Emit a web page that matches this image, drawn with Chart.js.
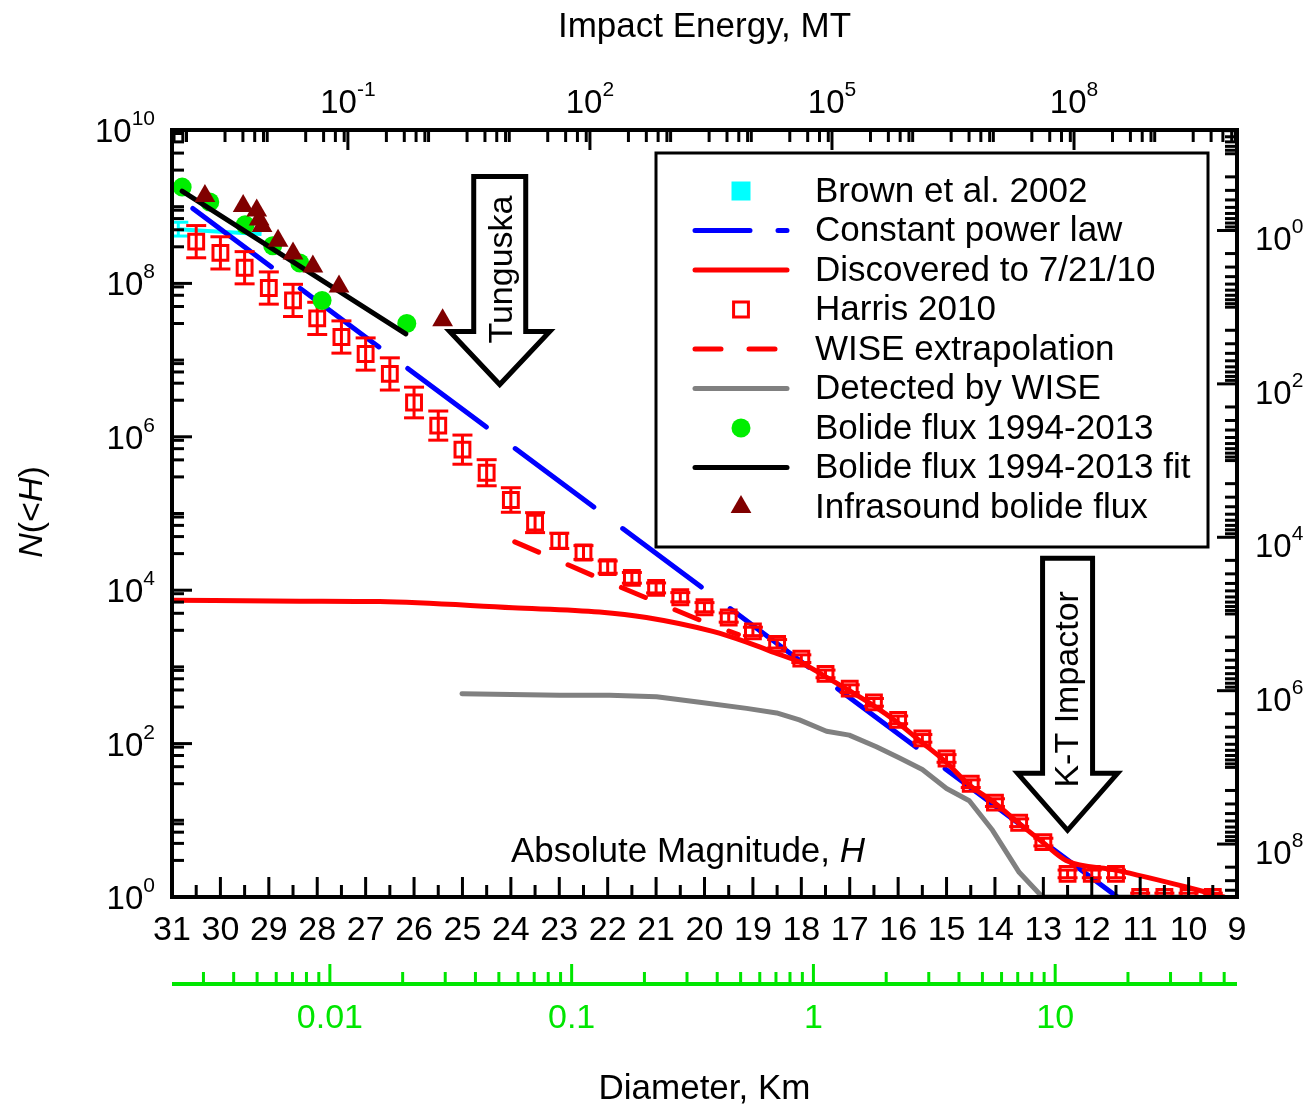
<!DOCTYPE html>
<html>
<head>
<meta charset="utf-8">
<title>NEA size distribution</title>
<script src="https://cdn.jsdelivr.net/npm/chart.js@4.4.1/dist/chart.umd.min.js"></script>
<style>
  html, body { margin:0; padding:0; background:#fff; }
  #wrap { width:1305px; height:1104px; }
</style>
</head>
<body>
<div id="wrap"><canvas id="neaChart" width="1305" height="1104"></canvas></div>
<script>
// every series is N(<H) against absolute magnitude H
const harrisH = [30.5, 30, 29.5, 29, 28.5, 28, 27.5, 27, 26.5, 26, 25.5, 25, 24.5, 24, 23.5, 23, 22.5, 22,
  21.5, 21, 20.5, 20, 19.5, 19, 18.5, 18, 17.5, 17, 16.5, 16, 15.5, 15, 14.5, 14, 13.5, 13, 12.5, 12, 11.5,
  11, 10.5, 10, 9.5];
const harrisN = [3.5e8, 2.5e8, 1.6e8, 8.7e7, 6.0e7, 3.5e7, 2.0e7, 1.2e7, 6.6e6, 2.8e6, 1.4e6, 6.8e5, 3.4e5,
  1.5e5, 7.6e4, 4.4e4, 3.1e4, 2.0e4, 1.45e4, 1.07e4, 8100, 6000, 4400, 2900, 2000, 1280, 810, 520, 345, 204,
  117, 64, 30, 17, 9.3, 5.2, 2, 2, 2, 1, 1, 1, 1];
// half length of the error bars, in decades
const harrisErr = [0.21, 0.21, 0.21, 0.21, 0.21, 0.21, 0.21, 0.21, 0.21, 0.2, 0.19, 0.19, 0.17, 0.16, 0.13,
  0.1, 0.09, 0.08, 0.07, 0.065, 0.06, 0.06, 0.06, 0.055, 0.055, 0.05, 0.05, 0.05, 0.05, 0.05, 0.05, 0.05,
  0.05, 0.05, 0.05, 0.05, 0.05, 0.05, 0.05, 0.05, 0.05, 0.05, 0.05];

const discoveredH = [31, 28.36, 26.71, 23.96, 22.17, 21.2, 19.83, 19.13, 18.45, 18.02, 17.52, 17.03, 16.53,
  16.02, 15.52, 15.02, 14.53, 14.01, 13.5, 13.02, 12.53, 11.5, 10.05, 9.27];
const discoveredN = [7400, 7200, 7100, 5900, 5200, 4400, 2900, 2100, 1450, 1150, 760, 500, 320, 190, 105,
  58, 29, 17, 9.1, 5.2, 3.0, 2.24, 1.35, 1];

const wiseExtH = [23.92, 22.23, 20.0, 19.3];
const wiseExtN = [42700, 14800, 3850, 2630];

const wiseDetH = [25.01, 22.99, 21.96, 20.99, 20.1, 19.13, 18.51, 18.04, 17.48, 17.01, 16.45, 15.97, 15.5,
  15.0, 14.53, 14.05, 13.5, 13.02, 9.99];
const wiseDetN = [447, 427, 427, 407, 347, 288, 251, 204, 145, 129, 91, 65, 46, 26, 18, 7.4, 2.1, 1, 1];

const powerLawH = [30.57, 11.47];
const powerLawN = [9.5e8, 1];

const brownH = [30.87, 30.0, 29.15];
const brownN = [5.1e8, 4.7e8, 4.4e8];
const brownErr = [0.09, 0, 0];

const bolideH = [30.79, 30.22, 29.49, 28.92, 28.36, 27.9, 26.15];
const bolideN = [1.8e9, 1.15e9, 5.8e8, 3.1e8, 1.85e8, 6.0e7, 3.0e7];

const bolideFitH = [30.79, 26.17];
const bolideFitN = [1.6e9, 2.2e7];

const infraH = [30.32, 29.53, 29.25, 29.2, 29.14, 28.81, 28.5, 28.09, 27.55, 25.41];
const infraN = [1.38e9, 1.02e9, 8.9e8, 6.8e8, 5.6e8, 3.6e8, 2.45e8, 1.66e8, 9.1e7, 3.3e7];

// axis ranges and labelled ticks
const hMin = 9, hMax = 31;
const countMin = 1, countMax = 1e10;
const leftDecades = [0, 2, 4, 6, 8, 10];
const rightMin = Math.pow(10, -1.31), rightMax = Math.pow(10, 8.69);
const rightDecades = [0, 2, 4, 6, 8];
const energyMin = Math.pow(10, -3.18), energyMax = Math.pow(10, 10.02);
const energyDecades = [-1, 2, 5, 8];
const diamMin = Math.pow(10, -2.653), diamMax = Math.pow(10, 1.752);
const diamTicks = [0.01, 0.1, 1, 10];

// arrow tips: [H, N]
const tunguskaTip = [24.23, 4.8e6];
const ktTip = [12.5, 7.4];

const FONT = "'Liberation Sans', Arial, Helvetica, sans-serif";
const GREEN = '#00e600';
Chart.defaults.font.family = FONT;

const pts = (xs, ys) => xs.map((x, i) => ({ x: x, y: ys[i] }));

function line(ctx, x1, y1, x2, y2) {
  ctx.beginPath(); ctx.moveTo(x1, y1); ctx.lineTo(x2, y2); ctx.stroke();
}

function drawPow(ctx, exp, x, y, align) {
  ctx.font = '33px ' + FONT;
  const wb = ctx.measureText('10').width;
  ctx.font = '21px ' + FONT;
  const we = ctx.measureText(exp).width;
  const w = wb + we;
  const x0 = align === 'right' ? x - w : align === 'center' ? x - w / 2 : x;
  ctx.textAlign = 'left'; ctx.textBaseline = 'alphabetic';
  ctx.font = '33px ' + FONT; ctx.fillText('10', x0, y);
  ctx.font = '21px ' + FONT; ctx.fillText(exp, x0 + wb, y - 17);
}

function drawArrow(ctx, tipX, tipY, total, head, halfHead, halfShaft, label, textDx, textDy) {
  const top = tipY - total, neck = tipY - head;
  ctx.beginPath();
  ctx.moveTo(tipX - halfShaft, top);
  ctx.lineTo(tipX + halfShaft, top);
  ctx.lineTo(tipX + halfShaft, neck);
  ctx.lineTo(tipX + halfHead, neck);
  ctx.lineTo(tipX, tipY);
  ctx.lineTo(tipX - halfHead, neck);
  ctx.lineTo(tipX - halfShaft, neck);
  ctx.closePath();
  ctx.fillStyle = '#fff'; ctx.fill();
  ctx.lineWidth = 5; ctx.strokeStyle = '#000'; ctx.lineJoin = 'miter'; ctx.stroke();
  ctx.save();
  ctx.translate(tipX + textDx, top + textDy);
  ctx.rotate(-Math.PI / 2);
  ctx.fillStyle = '#000'; ctx.font = '34px ' + FONT;
  ctx.textAlign = 'center'; ctx.textBaseline = 'alphabetic';
  ctx.fillText(label, 0, 0);
  ctx.restore();
}

const errorBars = {
  id: 'errorBars',
  beforeDatasetDraw(chart, args) {
    const ds = chart.data.datasets[args.index];
    if (!ds.errors) return;
    const { ctx, chartArea: a } = chart;
    const xs = chart.scales.x, ys = chart.scales.y;
    ctx.save();
    ctx.beginPath(); ctx.rect(a.left, a.top, a.right - a.left, a.bottom - a.top); ctx.clip();
    ctx.strokeStyle = ds.borderColor; ctx.lineWidth = 3;
    ds.data.forEach((p, i) => {
      const e = ds.errors[i];
      if (!e) return;
      const x = xs.getPixelForValue(p.x);
      const y1 = ys.getPixelForValue(p.y * Math.pow(10, e));
      const y2 = ys.getPixelForValue(p.y / Math.pow(10, e));
      line(ctx, x, y1, x, y2);
      line(ctx, x - 10, y1, x + 10, y1);
      line(ctx, x - 10, y2, x + 10, y2);
    });
    ctx.restore();
  }
};

const decor = {
  id: 'decor',
  afterDraw(chart) {
    const { ctx, chartArea: a, scales } = chart;
    ctx.save();
    ctx.lineCap = 'butt';

    // arrows
    drawArrow(ctx, scales.x.getPixelForValue(tunguskaTip[0]), scales.y.getPixelForValue(tunguskaTip[1]),
      208, 53, 50, 26, 'Tunguska', 12, 93);
    drawArrow(ctx, scales.x.getPixelForValue(ktTip[0]), scales.y.getPixelForValue(ktTip[1]),
      272, 57, 50, 25, 'K-T Impactor', 10, 131);

    // frame and inward ticks
    ctx.strokeStyle = '#000'; ctx.lineWidth = 3;
    for (let h = hMin; h <= hMax; h += 0.5) {
      const x = scales.x.getPixelForValue(h);
      line(ctx, x, a.bottom, x, a.bottom - (Number.isInteger(h) ? 20 : 12));
    }
    for (let d = 0; d <= 10; d++) {
      const y = scales.y.getPixelForValue(Math.pow(10, d));
      line(ctx, a.left, y, a.left + (leftDecades.includes(d) ? 20 : 12), y);
      if (d < 10) [3, 5, 7, 9].forEach(m => {
        const ym = scales.y.getPixelForValue(m * Math.pow(10, d));
        line(ctx, a.left, ym, a.left + 12, ym);
      });
    }
    for (let d = -2; d <= 8; d++) {
      for (let m = 1; m <= 9; m++) {
        const v = m * Math.pow(10, d);
        if (v < rightMin || v > rightMax) continue;
        const y = scales.y2.getPixelForValue(v);
        line(ctx, a.right, y, a.right - (m === 1 && rightDecades.includes(d) ? 20 : 12), y);
      }
    }
    for (let d = -4; d <= 10; d++) {
      [1, 3, 5, 7, 9].forEach(m => {
        const v = m * Math.pow(10, d);
        if (v < energyMin || v > energyMax) return;
        const x = scales.xE.getPixelForValue(v);
        line(ctx, x, a.top, x, a.top + (m === 1 && energyDecades.includes(d) ? 20 : 12));
      });
    }
    ctx.lineWidth = 4;
    ctx.strokeRect(a.left, a.top, a.right - a.left, a.bottom - a.top);

    // diameter axis
    const gy = a.bottom + 87;
    ctx.strokeStyle = GREEN; ctx.lineWidth = 4;
    line(ctx, a.left, gy, a.right, gy);
    ctx.lineWidth = 3;
    for (let d = -3; d <= 1; d++) {
      for (let m = 1; m <= 9; m++) {
        const v = m * Math.pow(10, d);
        if (v < diamMin || v > diamMax) continue;
        const x = scales.xD.getPixelForValue(v);
        line(ctx, x, gy, x, gy - (m === 1 ? 20 : 12));
      }
    }

    // power-of-ten labels
    ctx.fillStyle = '#000';
    leftDecades.forEach(d => drawPow(ctx, String(d), a.left - 17, scales.y.getPixelForValue(Math.pow(10, d)) + 12, 'right'));
    rightDecades.forEach(d => drawPow(ctx, String(d), a.right + 18, scales.y2.getPixelForValue(Math.pow(10, d)) + 20, 'left'));
    energyDecades.forEach(d => drawPow(ctx, String(d), scales.xE.getPixelForValue(Math.pow(10, d)), a.top - 17, 'center'));

    // titles
    const cx = (a.left + a.right) / 2;
    ctx.font = '35px ' + FONT; ctx.textAlign = 'center'; ctx.textBaseline = 'alphabetic';
    ctx.fillText('Impact Energy, MT', cx, 37);
    ctx.fillText('Diameter, Km', cx, 1099);

    ctx.font = '35px ' + FONT;
    const t1 = 'Absolute Magnitude, ';
    const w1 = ctx.measureText(t1).width;
    ctx.font = 'italic 35px ' + FONT;
    const w2 = ctx.measureText('H').width;
    const ax = a.left + 516 - (w1 + w2) / 2;
    ctx.textAlign = 'left';
    ctx.font = '35px ' + FONT; ctx.fillText(t1, ax, a.bottom - 35);
    ctx.font = 'italic 35px ' + FONT; ctx.fillText('H', ax + w1, a.bottom - 35);

    ctx.save();
    ctx.translate(42, 512);
    ctx.rotate(-Math.PI / 2);
    const parts = [['N', 'italic '], ['(<', ''], ['H', 'italic '], [')', '']];
    let tw = 0;
    parts.forEach(p => { ctx.font = p[1] + '34px ' + FONT; tw += ctx.measureText(p[0]).width; });
    let px = -tw / 2;
    parts.forEach(p => { ctx.font = p[1] + '34px ' + FONT; ctx.fillText(p[0], px, 0); px += ctx.measureText(p[0]).width; });
    ctx.restore();

    // legend
    const lx = a.left + 484, ly = a.top + 23, lw = 552, lh = 394;
    ctx.fillStyle = '#fff'; ctx.fillRect(lx, ly, lw, lh);
    ctx.strokeStyle = '#000'; ctx.lineWidth = 3; ctx.strokeRect(lx, ly, lw, lh);
    chart.data.datasets.forEach((ds, i) => {
      const y = ly + 38 + i * 39.5;
      const sx = lx + 85;
      const marker = ds.legendMarker || (ds.showLine ? 'line' : ds.pointStyle);
      ctx.save();
      if (marker === 'line') {
        ctx.strokeStyle = ds.borderColor; ctx.lineWidth = ds.borderWidth; ctx.lineCap = 'round';
        ctx.setLineDash(ds.legendDash || []);
        line(ctx, sx - 46, y, sx + 46, y);
      } else {
        ctx.beginPath();
        if (marker === 'filledRect') {
          ctx.rect(sx - 9.5, y - 9.5, 19, 19);
          ctx.fillStyle = ds.borderColor; ctx.fill();
        } else if (marker === 'rect') {
          const s = ds.pointRadius * Math.SQRT1_2;
          ctx.rect(sx - s, y - s, 2 * s, 2 * s);
          ctx.strokeStyle = ds.borderColor; ctx.lineWidth = ds.borderWidth; ctx.stroke();
        } else if (marker === 'circle') {
          ctx.arc(sx, y, ds.pointRadius, 0, Math.PI * 2);
          ctx.fillStyle = ds.backgroundColor; ctx.fill();
        } else {
          const r = ds.pointRadius;
          ctx.moveTo(sx, y - r);
          ctx.lineTo(sx + r * Math.sin(Math.PI * 2 / 3), y + r / 2);
          ctx.lineTo(sx - r * Math.sin(Math.PI * 2 / 3), y + r / 2);
          ctx.closePath();
          ctx.fillStyle = ds.backgroundColor; ctx.fill();
        }
      }
      ctx.restore();
      ctx.fillStyle = '#000'; ctx.font = '35px ' + FONT;
      ctx.textAlign = 'left'; ctx.textBaseline = 'middle';
      ctx.fillText(ds.label, lx + 159, y + 1);
    });
    ctx.restore();
  }
};

const ctx = document.getElementById('neaChart').getContext('2d');
new Chart(ctx, {
  type: 'scatter',
  data: {
    datasets: [
      {
        label: 'Brown et al. 2002',
        data: pts(brownH, brownN),
        showLine: true, borderColor: '#00ffff', backgroundColor: '#00ffff', borderWidth: 4,
        pointStyle: 'rect', pointRadius: 0, errors: brownErr, legendMarker: 'filledRect', order: 8
      },
      {
        label: 'Constant power law',
        data: pts(powerLawH, powerLawN),
        showLine: true, borderColor: '#0000ff', borderWidth: 5, borderDash: [98, 36], borderCapStyle: 'round',
        legendDash: [55, 28, 10, 100], pointRadius: 0, order: 7
      },
      {
        label: 'Discovered to 7/21/10',
        data: pts(discoveredH, discoveredN),
        showLine: true, borderColor: '#ff0000', borderWidth: 5, borderCapStyle: 'round', borderJoinStyle: 'round',
        cubicInterpolationMode: 'monotone', pointRadius: 0, order: 5
      },
      {
        label: 'Harris 2010',
        data: pts(harrisH, harrisN),
        showLine: false, borderColor: '#ff0000', backgroundColor: 'transparent', borderWidth: 3,
        pointStyle: 'rect', pointRadius: 10.5, errors: harrisErr, order: 4
      },
      {
        label: 'WISE extrapolation',
        data: pts(wiseExtH, wiseExtN),
        showLine: true, borderColor: '#ff0000', borderWidth: 5, borderDash: [26, 32], borderCapStyle: 'round',
        legendDash: [26, 28], pointRadius: 0, order: 6
      },
      {
        label: 'Detected by WISE',
        data: pts(wiseDetH, wiseDetN),
        showLine: true, borderColor: '#808080', borderWidth: 5, borderCapStyle: 'round', borderJoinStyle: 'round',
        pointRadius: 0, order: 9
      },
      {
        label: 'Bolide flux 1994-2013',
        data: pts(bolideH, bolideN),
        showLine: false, borderColor: '#00ee00', backgroundColor: '#00ee00', borderWidth: 0,
        pointStyle: 'circle', pointRadius: 9.5, order: 3
      },
      {
        label: 'Bolide flux 1994-2013 fit',
        data: pts(bolideFitH, bolideFitN),
        showLine: true, borderColor: '#000000', borderWidth: 5, borderCapStyle: 'round', pointRadius: 0, order: 2
      },
      {
        label: 'Infrasound bolide flux',
        data: pts(infraH, infraN),
        showLine: false, borderColor: '#800000', backgroundColor: '#800000', borderWidth: 0,
        pointStyle: 'triangle', pointRadius: 12, order: 1
      }
    ]
  },
  options: {
    responsive: false,
    devicePixelRatio: 1,
    animation: false,
    events: [],
    layout: { padding: 0 },
    plugins: { legend: { display: false }, tooltip: { enabled: false } },
    scales: {
      x: {
        type: 'linear', position: 'bottom', weight: 1, min: hMin, max: hMax, reverse: true,
        grid: { display: false, drawTicks: false }, border: { display: false },
        ticks: { stepSize: 1, autoSkip: false, maxRotation: 0, padding: 13, color: '#000', font: { size: 34 } },
        afterFit: s => { s.height = 65; }
      },
      xD: {
        type: 'logarithmic', position: 'bottom', weight: 2, min: diamMin, max: diamMax,
        grid: { display: false, drawTicks: false }, border: { display: false },
        ticks: { autoSkip: false, maxRotation: 0, padding: 36, color: GREEN, font: { size: 34 }, callback: v => String(v) },
        afterBuildTicks: s => { s.ticks = diamTicks.map(v => ({ value: v })); },
        afterFit: s => { s.height = 142; }
      },
      xE: {
        type: 'logarithmic', position: 'top', min: energyMin, max: energyMax,
        grid: { display: false, drawTicks: false }, border: { display: false }, ticks: { display: false },
        afterFit: s => { s.height = 130; }
      },
      y: {
        type: 'logarithmic', position: 'left', min: countMin, max: countMax,
        grid: { display: false, drawTicks: false }, border: { display: false }, ticks: { display: false },
        afterFit: s => { s.width = 172; }
      },
      y2: {
        type: 'logarithmic', position: 'right', reverse: true, min: rightMin, max: rightMax,
        grid: { display: false, drawTicks: false }, border: { display: false }, ticks: { display: false },
        afterFit: s => { s.width = 68; }
      }
    }
  },
  plugins: [errorBars, decor]
});
</script>
</body>
</html>
